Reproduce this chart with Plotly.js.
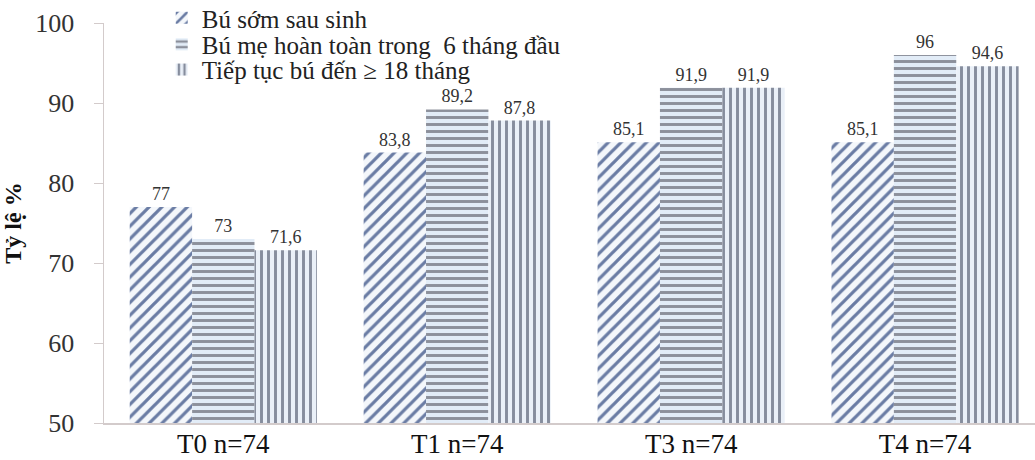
<!DOCTYPE html>
<html>
<head>
<meta charset="utf-8">
<script src="https://cdn.plot.ly/plotly-3.0.1.min.js"></script>
<style>
  html, body { margin: 0; padding: 0; background: #ffffff; }
  #chart { width: 1035px; height: 460px; }
  #chart .scrollbox { clip-path: none !important; }
</style>
</head>
<body>
<div id="chart"></div>
<script>
// Nhóm thời điểm khảo sát
const categories = ['T0 n=74', 'T1 n=74', 'T3 n=74', 'T4 n=74'];

// Tên các chỉ số
const seriesNames = [
  'Bú sớm sau sinh',
  'Bú mẹ hoàn toàn trong  6 tháng đầu',
  'Tiếp tục bú đến ≥ 18 tháng'
];

// Tỷ lệ (%) theo từng chỉ số
const buSom = [77, 83.8, 85.1, 85.1];
const buMeHoanToan = [73, 89.2, 91.9, 96];
const tiepTucBu = [71.6, 87.8, 91.9, 94.6];

const yTicks = [50, 60, 70, 80, 90, 100];

const serif = 'Liberation Serif, Times New Roman, Times, serif';

// Nhãn số liệu dùng dấu phẩy thập phân
const fmt = v => String(v).replace('.', ',');

const styles = [
  { shape: '/', fg: '#6a7ca4', bg: '#f4f7fb', size: 9, solidity: 0.36 },
  { shape: '-', fg: '#8c909b', bg: '#e2ecf7', size: 7, solidity: 0.42 },
  { shape: '|', fg: '#868d9d', bg: '#eaf0f8', size: 7, solidity: 0.42 }
];

const values = [buSom, buMeHoanToan, tiepTucBu];
const legendIds = ['legend', 'legend2', 'legend3'];

const traces = values.map((vals, i) => ({
  type: 'bar',
  name: seriesNames[i],
  legend: legendIds[i],
  x: categories,
  y: vals,
  base: 0,
  text: vals.map(fmt),
  textposition: 'outside',
  cliponaxis: false,
  textfont: { family: serif, size: 18, color: '#333333' },
  marker: {
    color: styles[i].bg,
    line: { width: 0 },
    pattern: {
      shape: styles[i].shape,
      fgcolor: styles[i].fg,
      bgcolor: styles[i].bg,
      size: styles[i].size,
      solidity: styles[i].solidity,
      fillmode: 'replace'
    }
  },
  hoverinfo: 'skip'
}));

// one legend per series so the rows can sit close together
const legendRowY = [1.0125, 0.946, 0.883];
const legendBox = y => ({
  x: 0.062, y: y, xanchor: 'left', yanchor: 'middle',
  bgcolor: 'rgba(0,0,0,0)',
  borderwidth: 0,
  font: { family: serif, size: 25, color: '#222222' },
  itemwidth: 30
});

const layout = {
  width: 1035,
  height: 460,
  margin: { l: 104, r: 0, t: 23, b: 37, autoexpand: false },
  paper_bgcolor: '#ffffff',
  plot_bgcolor: '#ffffff',
  font: { family: serif, color: '#222222' },
  barmode: 'group',
  bargap: 0.2,
  bargroupgap: 0,
  showlegend: true,
  legend: legendBox(legendRowY[0]),
  legend2: legendBox(legendRowY[1]),
  legend3: legendBox(legendRowY[2]),
  xaxis: {
    type: 'category',
    range: [-0.51, 3.47],
    showline: true,
    linecolor: '#d3cbcb',
    linewidth: 1.5,
    ticks: '',
    showgrid: false,
    zeroline: false,
    ticklabelstandoff: -4,
    tickfont: { family: serif, size: 27, color: '#111111' }
  },
  yaxis: {
    range: [50, 100],
    tickvals: yTicks,
    ticktext: yTicks.map(String),
    showline: true,
    linecolor: '#d3cbcb',
    linewidth: 1.5,
    ticks: 'outside',
    ticklen: 9,
    tickcolor: '#d3cbcb',
    showgrid: false,
    zeroline: false,
    ticklabelstandoff: 14,
    tickfont: { family: serif, size: 26, color: '#333333' },
    title: {
      text: '<b>Tỷ lệ %</b>',
      font: { family: serif, size: 24, color: '#111111' },
      standoff: 8
    }
  }
};

Plotly.newPlot('chart', traces, layout, { displayModeBar: false, staticPlot: true });
</script>
</body>
</html>
